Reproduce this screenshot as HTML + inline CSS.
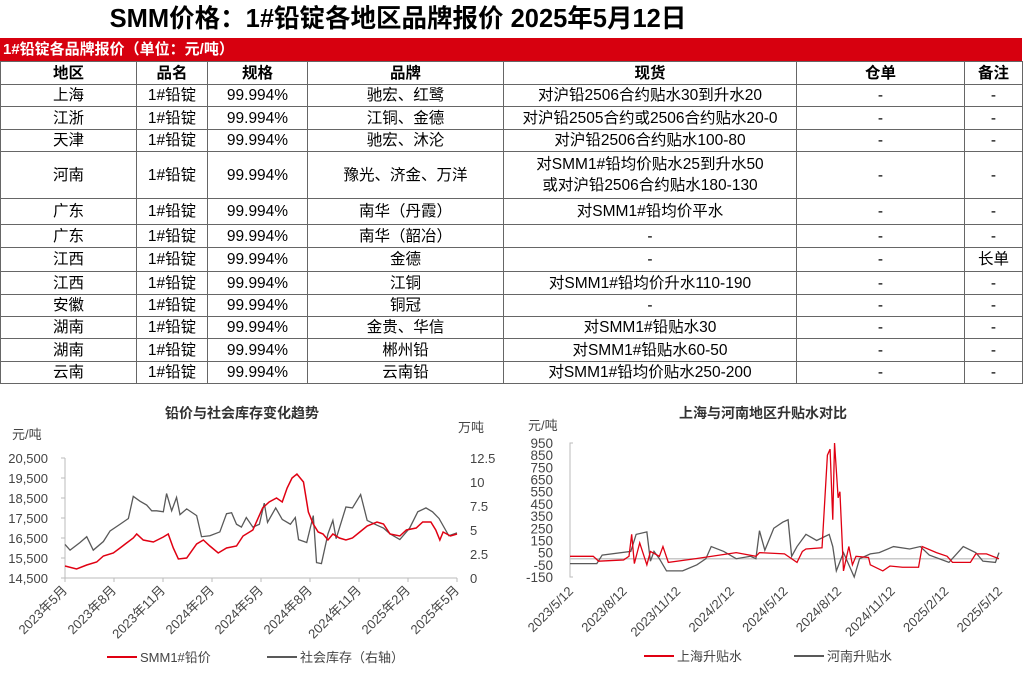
<!DOCTYPE html>
<html><head><meta charset="utf-8">
<style>
*{margin:0;padding:0;box-sizing:border-box}
body{width:1024px;height:678px;background:#fff;font-family:"Liberation Sans","Noto Sans CJK SC",sans-serif;position:relative;overflow:hidden;color:#000}
#title{position:absolute;left:0;top:3px;width:796px;text-align:center;font-size:25.5px;font-weight:bold;line-height:32px}
#redbar{position:absolute;left:0;top:38px;width:1022px;height:23px;background:#d7000f;color:#fff;font-weight:bold;font-size:15px;line-height:23px;padding-left:3px}
table{position:absolute;left:0;top:61px;border-collapse:collapse;table-layout:fixed;font-size:15.5px}
td{border:1px solid #666;text-align:center;padding:0;line-height:21px;white-space:nowrap}
tr.h td{font-weight:bold}
svg{position:absolute;left:0;top:0}
</style></head><body>
<div id="title">SMM价格：1#铅锭各地区品牌报价 2025年5月12日</div>
<div id="redbar">1#铅锭各品牌报价（单位：元/吨）</div>
<table>
<colgroup><col style="width:136px"><col style="width:71px"><col style="width:100px"><col style="width:196px"><col style="width:293px"><col style="width:168px"><col style="width:58px"></colgroup>
<tr class="h" style="height:23px"><td>地区</td><td>品名</td><td>规格</td><td>品牌</td><td>现货</td><td>仓单</td><td>备注</td></tr>
<tr style="height:22px"><td>上海</td><td>1#铅锭</td><td>99.994%</td><td>驰宏、红鹭</td><td>对沪铅2506合约贴水30到升水20</td><td>-</td><td>-</td></tr>
<tr style="height:23px"><td>江浙</td><td>1#铅锭</td><td>99.994%</td><td>江铜、金德</td><td>对沪铅2505合约或2506合约贴水20-0</td><td>-</td><td>-</td></tr>
<tr style="height:22px"><td>天津</td><td>1#铅锭</td><td>99.994%</td><td>驰宏、沐沦</td><td>对沪铅2506合约贴水100-80</td><td>-</td><td>-</td></tr>
<tr style="height:47px"><td>河南</td><td>1#铅锭</td><td>99.994%</td><td>豫光、济金、万洋</td><td>对SMM1#铅均价贴水25到升水50<br>或对沪铅2506合约贴水180-130</td><td>-</td><td>-</td></tr>
<tr style="height:26px"><td>广东</td><td>1#铅锭</td><td>99.994%</td><td>南华（丹霞）</td><td>对SMM1#铅均价平水</td><td>-</td><td>-</td></tr>
<tr style="height:23px"><td>广东</td><td>1#铅锭</td><td>99.994%</td><td>南华（韶冶）</td><td>-</td><td>-</td><td>-</td></tr>
<tr style="height:24px"><td>江西</td><td>1#铅锭</td><td>99.994%</td><td>金德</td><td>-</td><td>-</td><td>长单</td></tr>
<tr style="height:23px"><td>江西</td><td>1#铅锭</td><td>99.994%</td><td>江铜</td><td>对SMM1#铅均价升水110-190</td><td>-</td><td>-</td></tr>
<tr style="height:22px"><td>安徽</td><td>1#铅锭</td><td>99.994%</td><td>铜冠</td><td>-</td><td>-</td><td>-</td></tr>
<tr style="height:22px"><td>湖南</td><td>1#铅锭</td><td>99.994%</td><td>金贵、华信</td><td>对SMM1#铅贴水30</td><td>-</td><td>-</td></tr>
<tr style="height:23px"><td>湖南</td><td>1#铅锭</td><td>99.994%</td><td>郴州铅</td><td>对SMM1#铅贴水60-50</td><td>-</td><td>-</td></tr>
<tr style="height:22px"><td>云南</td><td>1#铅锭</td><td>99.994%</td><td>云南铅</td><td>对SMM1#铅均价贴水250-200</td><td>-</td><td>-</td></tr>
</table>
<svg id="charts" width="1024" height="678" font-family="Liberation Sans, Noto Sans CJK SC, sans-serif"></svg>
<script>
// Left chart data (months since 2023-05)
const priceMonths=[0,0.71,1.33,1.94,2.35,2.96,3.37,3.77,4.18,4.39,4.79,5.41,6.02,6.32,6.63,6.94,7.45,8.06,8.47,8.87,9.38,9.89,10.5,10.9,11.5,12.1,12.5,12.95,13.3,13.6,13.9,14.2,14.6,14.9,15.2,15.5,15.8,16.1,16.4,16.8,17.2,17.6,18.05,18.5,19.1,19.5,19.9,20.5,20.9,21.5,21.9,22.4,22.7,22.95,23.15,23.6,24];
const priceValues=[15100,14950,15150,15300,15600,15750,16000,16250,16500,16700,16400,16300,16550,16700,16000,15450,15500,16200,16400,16100,15750,16000,16100,16600,16900,18000,18300,18500,18300,19000,19500,19700,19300,17800,17200,16800,16700,16400,16700,16500,16400,16500,16800,17100,17300,17200,16700,16600,16900,17000,17300,17300,16900,16400,16800,16600,16700];
const invMonths=[0,0.31,0.92,1.33,1.73,2.35,2.76,3.37,3.88,4.18,4.59,5.0,5.31,5.61,6.02,6.22,6.53,6.83,7.04,7.45,8.06,8.36,8.87,9.48,9.89,10.2,10.5,10.8,11.1,11.5,11.9,12.2,12.4,12.9,13.3,13.8,14.1,14.3,14.8,15.2,15.4,15.7,16.1,16.4,16.6,17.2,17.6,18.1,18.5,19.1,19.5,19.9,20.5,21.1,21.6,22.1,22.5,22.9,23.5,24];
const invValues=[3.5,2.9,3.7,4.3,2.9,3.8,4.9,5.6,6.2,8.5,8.0,7.6,7.0,7.0,6.9,8.8,7.0,8.4,6.6,7.2,6.5,4.3,4.4,4.8,6.7,6.8,5.6,5.3,6.3,5.3,5.6,7.8,5.8,7.3,6.1,5.6,6.3,4.0,3.7,6.5,1.6,1.5,4.6,6.0,4.1,7.4,7.3,8.7,6.0,5.5,5.2,4.6,4.0,5.2,6.9,7.3,6.9,6.2,4.4,4.7];
const leftTicks=["2023年5月","2023年8月","2023年11月","2024年2月","2024年5月","2024年8月","2024年11月","2025年2月","2025年5月"];
const leftYTicks=[14500,15500,16500,17500,18500,19500,20500];
const rightYTicks=[0,2.5,5,7.5,10,12.5];
// Right chart data
const shMonths=[0,1.3,1.6,3.0,3.3,3.45,3.6,3.9,4.3,4.5,5.0,5.2,5.5,7.0,9.3,10.4,10.6,12.0,12.7,13.0,13.2,14.1,14.4,14.55,14.7,14.8,15.0,15.1,15.3,15.6,15.8,16.0,16.7,16.8,17.5,17.9,18.6,19.5,19.7,20.5,21.1,21.4,22.4,22.7,23.3,24];
const shValues=[20,20,-20,-10,20,200,-40,130,-50,60,20,100,-30,0,50,20,50,40,-30,60,80,90,850,900,320,950,500,550,-100,100,-50,20,10,-50,-100,-60,-70,-70,100,50,20,-30,-30,40,40,0];
const hnMonths=[0,1.5,1.8,3.4,3.7,4.3,4.5,4.7,5.0,5.4,6.3,7.1,7.6,7.9,8.6,9.3,10.1,10.4,10.6,10.9,11.4,11.9,12.2,12.4,12.7,13.2,13.8,14.5,14.7,14.9,15.3,15.9,16.2,16.8,17.3,18.1,19.0,19.6,20.1,21.2,22.0,22.7,23.1,23.8,24];
const hnValues=[-40,-40,30,60,200,220,-20,60,0,-100,-100,-50,0,100,60,0,20,0,230,70,250,300,320,20,100,200,150,200,100,-100,50,-150,0,40,50,100,80,100,30,-30,100,50,-20,-30,50];
const rTicks=["2023/5/12","2023/8/12","2023/11/12","2024/2/12","2024/5/12","2024/8/12","2024/11/12","2025/2/12","2025/5/12"];
const rYTicks=[-150,-50,50,150,250,350,450,550,650,750,850,950];

const NS="http://www.w3.org/2000/svg";
const svg=document.getElementById('charts');
function mk(tag,attrs,parent){const e=document.createElementNS(NS,tag);for(const k in attrs)e.setAttribute(k,attrs[k]);(parent||svg).appendChild(e);return e;}
function txt(s,attrs){const e=mk('text',attrs);e.textContent=s;return e;}

// ---- left chart
const L={x0:65,x1:457,y0:578,y1:458};
const lx=m=>L.x0+m/24*(L.x1-L.x0);
const ly=v=>L.y0-(v-14500)/6000*(L.y0-L.y1);
const ly2=v=>L.y0-v/12.5*(L.y0-L.y1);
let t=txt('铅价与社会库存变化趋势',{x:242,y:418,'text-anchor':'middle','font-size':14,'font-weight':'bold',fill:'#333'});


t=txt('元/吨',{x:12,y:439,'font-size':13,fill:'#444'});


t=txt('万吨',{x:458,y:432,'font-size':13,fill:'#444'});


let ax=mk('path',{d:`M${L.x0} ${L.y1}V${L.y0}H${L.x1}`,stroke:'#bbb',fill:'none'});


leftYTicks.forEach(v=>{
  const e=txt(v.toLocaleString('en-US'),{x:48,y:ly(v)+5,'text-anchor':'end','font-size':13,fill:'#444'});
  
  
  mk('line',{x1:L.x0-4,x2:L.x0,y1:ly(v),y2:ly(v),stroke:'#bbb'});
});
rightYTicks.forEach(v=>{
  const e=txt(String(v),{x:470,y:ly2(v)+5,'font-size':13,fill:'#444'});
  
  
});
leftTicks.forEach((s,i)=>{
  const x=lx(i*3);
  mk('line',{x1:x,x2:x,y1:L.y0,y2:L.y0+4,stroke:'#bbb'});
  const e=txt(s,{x:x+3,y:L.y0+13,'text-anchor':'end','font-size':13,fill:'#444',transform:`rotate(-45 ${x+3} ${L.y0+13})`});
  
  
});
let p=mk('polyline',{points:invMonths.map((m,i)=>lx(m)+','+ly2(invValues[i])).join(' '),fill:'none',stroke:'#595959','stroke-width':1.3});


p=mk('polyline',{points:priceMonths.map((m,i)=>lx(m)+','+ly(priceValues[i])).join(' '),fill:'none',stroke:'#e00012','stroke-width':1.5});


let g=mk('g',{});


mk('line',{x1:107,x2:137,y1:657,y2:657,stroke:'#e00012','stroke-width':2},g);
mk('text',{x:140,y:662,'font-size':13,fill:'#444'},g).textContent='SMM1#铅价';
g=mk('g',{});


mk('line',{x1:267,x2:297,y1:657,y2:657,stroke:'#595959','stroke-width':2},g);
mk('text',{x:300,y:662,'font-size':13,fill:'#444'},g).textContent='社会库存（右轴）';

// ---- right chart
const R={x0:570,x1:999,y0:577,y1:443};
const rx=m=>R.x0+m/24*(R.x1-R.x0);
const ry=v=>R.y0-(v+150)/1100*(R.y0-R.y1);
t=txt('上海与河南地区升贴水对比',{x:763,y:418,'text-anchor':'middle','font-size':14,'font-weight':'bold',fill:'#333'});


t=txt('元/吨',{x:528,y:430,'font-size':13,fill:'#444'});


ax=mk('path',{d:`M${R.x0+3} ${R.y1}H${R.x0}V${R.y0}H${R.x0+3}`,stroke:'#bbb',fill:'none'});


let z=mk('line',{x1:R.x0,x2:R.x1,y1:ry(0),y2:ry(0),stroke:'#c8c8c8','stroke-width':1.5});


rYTicks.forEach(v=>{
  const e=txt(String(v),{x:553,y:ry(v)+5,'text-anchor':'end','font-size':13.5,fill:'#444'});
  
  
});
rTicks.forEach((s,i)=>{
  const x=rx(i*3);
  const e=txt(s,{x:x+4,y:R.y0+15,'text-anchor':'end','font-size':13,fill:'#444',transform:`rotate(-45 ${x+4} ${R.y0+15})`});
  
  
});
p=mk('polyline',{points:hnMonths.map((m,i)=>rx(m)+','+ry(hnValues[i])).join(' '),fill:'none',stroke:'#595959','stroke-width':1.3});


p=mk('polyline',{points:shMonths.map((m,i)=>rx(m)+','+ry(shValues[i])).join(' '),fill:'none',stroke:'#e00012','stroke-width':1.3});


g=mk('g',{});


mk('line',{x1:644,x2:674,y1:656,y2:656,stroke:'#e00012','stroke-width':2},g);
mk('text',{x:677,y:661,'font-size':13,fill:'#444'},g).textContent='上海升贴水';
g=mk('g',{});


mk('line',{x1:794,x2:824,y1:656,y2:656,stroke:'#595959','stroke-width':2},g);
mk('text',{x:827,y:661,'font-size':13,fill:'#444'},g).textContent='河南升贴水';
</script>
</body></html>
